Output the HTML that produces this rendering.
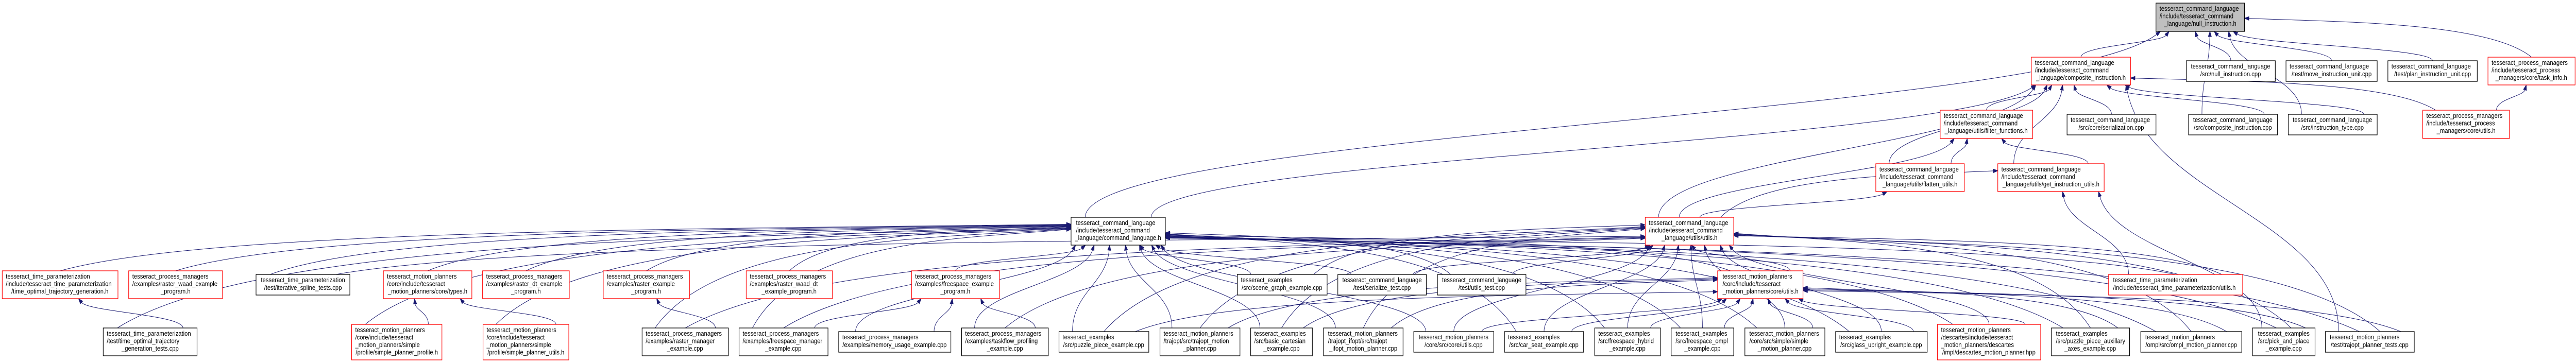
<!DOCTYPE html>
<html><head><meta charset="utf-8">
<style>
html,body{margin:0;padding:0;background:#fff;width:100%;height:100%;overflow:hidden;}
svg{display:block;position:absolute;left:0;top:0;width:100vw;height:100vh;}
text{font-family:"Liberation Sans",Arial,sans-serif;font-size:13px;fill:#000;}
</style></head>
<body>
<svg id="g" xmlns="http://www.w3.org/2000/svg" viewBox="0 0 5765 705" preserveAspectRatio="none" overflow="hidden">
<g id="edges" fill="none" stroke="#191970" stroke-width="1"></g>
<g id="heads" fill="#191970" stroke="#191970"></g>
<g id="nodes">
<rect x="4825" y="6" width="198" height="55" fill="#bfbfbf" stroke="#000" stroke-width="1.3"/>
<text x="4833" y="21">tesseract_command_language</text><text x="4833" y="35.5">/include/tesseract_command</text><text x="4924" y="50" text-anchor="middle">_language/null_instruction.h</text>
<rect x="4546" y="111" width="222" height="54" fill="#fff" stroke="#ff0000" stroke-width="1.3"/>
<text x="4554" y="126">tesseract_command_language</text><text x="4554" y="140.5">/include/tesseract_command</text><text x="4657" y="155" text-anchor="middle">_language/composite_instruction.h</text>
<rect x="4893" y="118" width="199" height="40" fill="#fff" stroke="#000" stroke-width="1.3"/>
<text x="4992" y="133" text-anchor="middle">tesseract_command_language</text><text x="4992" y="148" text-anchor="middle">/src/null_instruction.cpp</text>
<rect x="5116" y="118" width="204" height="40" fill="#fff" stroke="#000" stroke-width="1.3"/>
<text x="5124" y="133">tesseract_command_language</text><text x="5218" y="148" text-anchor="middle">/test/move_instruction_unit.cpp</text>
<rect x="5344" y="118" width="200" height="40" fill="#fff" stroke="#000" stroke-width="1.3"/>
<text x="5352" y="133">tesseract_command_language</text><text x="5444" y="148" text-anchor="middle">/test/plan_instruction_unit.cpp</text>
<rect x="5568" y="111" width="195" height="54" fill="#fff" stroke="#ff0000" stroke-width="1.3"/>
<text x="5576" y="126">tesseract_process_managers</text><text x="5576" y="140.5">/include/tesseract_process</text><text x="5665" y="155" text-anchor="middle">_managers/core/task_info.h</text>
<rect x="4342" y="214" width="207" height="55" fill="#fff" stroke="#ff0000" stroke-width="1.3"/>
<text x="4350" y="229">tesseract_command_language</text><text x="4350" y="243.5">/include/tesseract_command</text><text x="4445" y="258" text-anchor="middle">_language/utils/filter_functions.h</text>
<rect x="4626" y="222" width="199" height="40" fill="#fff" stroke="#000" stroke-width="1.3"/>
<text x="4634" y="237">tesseract_command_language</text><text x="4725" y="252" text-anchor="middle">/src/core/serialization.cpp</text>
<rect x="4898" y="222" width="199" height="40" fill="#fff" stroke="#000" stroke-width="1.3"/>
<text x="4997" y="237" text-anchor="middle">tesseract_command_language</text><text x="4997" y="252" text-anchor="middle">/src/composite_instruction.cpp</text>
<rect x="5121" y="222" width="199" height="40" fill="#fff" stroke="#000" stroke-width="1.3"/>
<text x="5220" y="237" text-anchor="middle">tesseract_command_language</text><text x="5220" y="252" text-anchor="middle">/src/instruction_type.cpp</text>
<rect x="5422" y="214" width="194" height="55" fill="#fff" stroke="#ff0000" stroke-width="1.3"/>
<text x="5430" y="229">tesseract_process_managers</text><text x="5430" y="243.5">/include/tesseract_process</text><text x="5519" y="258" text-anchor="middle">_managers/core/utils.h</text>
<rect x="4198" y="318" width="198" height="54" fill="#fff" stroke="#ff0000" stroke-width="1.3"/>
<text x="4206" y="333">tesseract_command_language</text><text x="4206" y="347.5">/include/tesseract_command</text><text x="4297" y="362" text-anchor="middle">_language/utils/flatten_utils.h</text>
<rect x="4471" y="318" width="238" height="54" fill="#fff" stroke="#ff0000" stroke-width="1.3"/>
<text x="4479" y="333">tesseract_command_language</text><text x="4479" y="347.5">/include/tesseract_command</text><text x="4590" y="362" text-anchor="middle">_language/utils/get_instruction_utils.h</text>
<rect x="2397" y="422" width="211" height="54" fill="#fff" stroke="#000" stroke-width="1.3"/>
<text x="2408" y="437">tesseract_command_language</text><text x="2408" y="451.5">/include/tesseract_command</text><text x="2502" y="466" text-anchor="middle">_language/command_language.h</text>
<rect x="3682" y="422" width="198" height="54" fill="#fff" stroke="#ff0000" stroke-width="1.3"/>
<text x="3690" y="437">tesseract_command_language</text><text x="3690" y="451.5">/include/tesseract_command</text><text x="3781" y="466" text-anchor="middle">_language/utils/utils.h</text>
<rect x="5" y="526" width="259" height="54" fill="#fff" stroke="#ff0000" stroke-width="1.3"/>
<text x="13" y="541">tesseract_time_parameterization</text><text x="13" y="555.5">/include/tesseract_time_parameterization</text><text x="134" y="570" text-anchor="middle">/time_optimal_trajectory_generation.h</text>
<rect x="288" y="526" width="210" height="54" fill="#fff" stroke="#ff0000" stroke-width="1.3"/>
<text x="296" y="541">tesseract_process_managers</text><text x="296" y="555.5">/examples/raster_waad_example</text><text x="393" y="570" text-anchor="middle">_program.h</text>
<rect x="573" y="533" width="210" height="40" fill="#fff" stroke="#000" stroke-width="1.3"/>
<text x="678" y="548" text-anchor="middle">tesseract_time_parameterization</text><text x="678" y="563" text-anchor="middle">/test/iterative_spline_tests.cpp</text>
<rect x="858" y="526" width="198" height="54" fill="#fff" stroke="#ff0000" stroke-width="1.3"/>
<text x="866" y="541">tesseract_motion_planners</text><text x="866" y="555.5">/core/include/tesseract</text><text x="957" y="570" text-anchor="middle">_motion_planners/core/types.h</text>
<rect x="1080" y="526" width="194" height="54" fill="#fff" stroke="#ff0000" stroke-width="1.3"/>
<text x="1088" y="541">tesseract_process_managers</text><text x="1088" y="555.5">/examples/raster_dt_example</text><text x="1177" y="570" text-anchor="middle">_program.h</text>
<rect x="1350" y="526" width="193" height="54" fill="#fff" stroke="#ff0000" stroke-width="1.3"/>
<text x="1358" y="541">tesseract_process_managers</text><text x="1358" y="555.5">/examples/raster_example</text><text x="1446" y="570" text-anchor="middle">_program.h</text>
<rect x="1670" y="526" width="193" height="54" fill="#fff" stroke="#ff0000" stroke-width="1.3"/>
<text x="1678" y="541">tesseract_process_managers</text><text x="1678" y="555.5">/examples/raster_waad_dt</text><text x="1766" y="570" text-anchor="middle">_example_program.h</text>
<rect x="2040" y="526" width="197" height="54" fill="#fff" stroke="#ff0000" stroke-width="1.3"/>
<text x="2048" y="541">tesseract_process_managers</text><text x="2048" y="555.5">/examples/freespace_example</text><text x="2138" y="570" text-anchor="middle">_program.h</text>
<rect x="2769" y="533" width="201" height="40" fill="#fff" stroke="#000" stroke-width="1.3"/>
<text x="2777" y="548">tesseract_examples</text><text x="2869" y="563" text-anchor="middle">/src/scene_graph_example.cpp</text>
<rect x="2994" y="533" width="198" height="40" fill="#fff" stroke="#000" stroke-width="1.3"/>
<text x="3093" y="548" text-anchor="middle">tesseract_command_language</text><text x="3093" y="563" text-anchor="middle">/test/serialize_test.cpp</text>
<rect x="3217" y="533" width="198" height="40" fill="#fff" stroke="#000" stroke-width="1.3"/>
<text x="3316" y="548" text-anchor="middle">tesseract_command_language</text><text x="3316" y="563" text-anchor="middle">/test/utils_test.cpp</text>
<rect x="3844" y="526" width="191" height="54" fill="#fff" stroke="#ff0000" stroke-width="1.3"/>
<text x="3855" y="541">tesseract_motion_planners</text><text x="3855" y="555.5">/core/include/tesseract</text><text x="3940" y="570" text-anchor="middle">_motion_planners/core/utils.h</text>
<rect x="4719" y="533" width="300" height="40" fill="#fff" stroke="#ff0000" stroke-width="1.3"/>
<text x="4729" y="548">tesseract_time_parameterization</text><text x="4729" y="563">/include/tesseract_time_parameterization/utils.h</text>
<rect x="231" y="637" width="210" height="54" fill="#fff" stroke="#000" stroke-width="1.3"/>
<text x="239" y="652">tesseract_time_parameterization</text><text x="239" y="666.5">/test/time_optimal_trajectory</text><text x="336" y="681" text-anchor="middle">_generation_tests.cpp</text>
<rect x="787" y="630" width="202" height="69" fill="#fff" stroke="#ff0000" stroke-width="1.3"/>
<text x="795" y="645">tesseract_motion_planners</text><text x="795" y="659.5">/core/include/tesseract</text><text x="795" y="674">_motion_planners/simple</text><text x="888" y="688.5" text-anchor="middle">/profile/simple_planner_profile.h</text>
<rect x="1081" y="630" width="192" height="69" fill="#fff" stroke="#ff0000" stroke-width="1.3"/>
<text x="1089" y="645">tesseract_motion_planners</text><text x="1089" y="659.5">/core/include/tesseract</text><text x="1089" y="674">_motion_planners/simple</text><text x="1177" y="688.5" text-anchor="middle">/profile/simple_planner_utils.h</text>
<rect x="1437" y="637" width="193" height="54" fill="#fff" stroke="#000" stroke-width="1.3"/>
<text x="1445" y="652">tesseract_process_managers</text><text x="1445" y="666.5">/examples/raster_manager</text><text x="1533" y="681" text-anchor="middle">_example.cpp</text>
<rect x="1654" y="637" width="199" height="54" fill="#fff" stroke="#000" stroke-width="1.3"/>
<text x="1662" y="652">tesseract_process_managers</text><text x="1662" y="666.5">/examples/freespace_manager</text><text x="1753" y="681" text-anchor="middle">_example.cpp</text>
<rect x="1877" y="644" width="251" height="40" fill="#fff" stroke="#000" stroke-width="1.3"/>
<text x="1885" y="659">tesseract_process_managers</text><text x="2002" y="674" text-anchor="middle">/examples/memory_usage_example.cpp</text>
<rect x="2152" y="637" width="194" height="54" fill="#fff" stroke="#000" stroke-width="1.3"/>
<text x="2160" y="652">tesseract_process_managers</text><text x="2160" y="666.5">/examples/taskflow_profiling</text><text x="2249" y="681" text-anchor="middle">_example.cpp</text>
<rect x="2370" y="644" width="201" height="40" fill="#fff" stroke="#000" stroke-width="1.3"/>
<text x="2378" y="659">tesseract_examples</text><text x="2470" y="674" text-anchor="middle">/src/puzzle_piece_example.cpp</text>
<rect x="2596" y="637" width="179" height="54" fill="#fff" stroke="#000" stroke-width="1.3"/>
<text x="2604" y="652">tesseract_motion_planners</text><text x="2604" y="666.5">/trajopt/src/trajopt_motion</text><text x="2685" y="681" text-anchor="middle">_planner.cpp</text>
<rect x="2799" y="637" width="138" height="54" fill="#fff" stroke="#000" stroke-width="1.3"/>
<text x="2807" y="652">tesseract_examples</text><text x="2807" y="666.5">/src/basic_cartesian</text><text x="2868" y="681" text-anchor="middle">_example.cpp</text>
<rect x="2962" y="637" width="178" height="54" fill="#fff" stroke="#000" stroke-width="1.3"/>
<text x="2972" y="652">tesseract_motion_planners</text><text x="2972" y="666.5">/trajopt_ifopt/src/trajopt</text><text x="3051" y="681" text-anchor="middle">_ifopt_motion_planner.cpp</text>
<rect x="3164" y="644" width="179" height="40" fill="#fff" stroke="#000" stroke-width="1.3"/>
<text x="3253" y="659" text-anchor="middle">tesseract_motion_planners</text><text x="3253" y="674" text-anchor="middle">/core/src/core/utils.cpp</text>
<rect x="3367" y="644" width="177" height="40" fill="#fff" stroke="#000" stroke-width="1.3"/>
<text x="3375" y="659">tesseract_examples</text><text x="3455" y="674" text-anchor="middle">/src/car_seat_example.cpp</text>
<rect x="3569" y="637" width="147" height="54" fill="#fff" stroke="#000" stroke-width="1.3"/>
<text x="3577" y="652">tesseract_examples</text><text x="3577" y="666.5">/src/freespace_hybrid</text><text x="3642" y="681" text-anchor="middle">_example.cpp</text>
<rect x="3740" y="637" width="140" height="54" fill="#fff" stroke="#000" stroke-width="1.3"/>
<text x="3750" y="652">tesseract_examples</text><text x="3750" y="666.5">/src/freespace_ompl</text><text x="3810" y="681" text-anchor="middle">_example.cpp</text>
<rect x="3905" y="637" width="179" height="54" fill="#fff" stroke="#000" stroke-width="1.3"/>
<text x="3915" y="652">tesseract_motion_planners</text><text x="3915" y="666.5">/core/src/simple/simple</text><text x="3994" y="681" text-anchor="middle">_motion_planner.cpp</text>
<rect x="4108" y="644" width="205" height="40" fill="#fff" stroke="#000" stroke-width="1.3"/>
<text x="4116" y="659">tesseract_examples</text><text x="4210" y="674" text-anchor="middle">/src/glass_upright_example.cpp</text>
<rect x="4336" y="630" width="231" height="69" fill="#fff" stroke="#ff0000" stroke-width="1.3"/>
<text x="4344" y="645">tesseract_motion_planners</text><text x="4344" y="659.5">/descartes/include/tesseract</text><text x="4344" y="674">_motion_planners/descartes</text><text x="4451" y="688.5" text-anchor="middle">/impl/descartes_motion_planner.hpp</text>
<rect x="4591" y="637" width="175" height="54" fill="#fff" stroke="#000" stroke-width="1.3"/>
<text x="4601" y="652">tesseract_examples</text><text x="4601" y="666.5">/src/puzzle_piece_auxillary</text><text x="4678" y="681" text-anchor="middle">_axes_example.cpp</text>
<rect x="4791" y="644" width="226" height="40" fill="#fff" stroke="#000" stroke-width="1.3"/>
<text x="4801" y="659">tesseract_motion_planners</text><text x="4904" y="674" text-anchor="middle">/ompl/src/ompl_motion_planner.cpp</text>
<rect x="5041" y="637" width="140" height="54" fill="#fff" stroke="#000" stroke-width="1.3"/>
<text x="5111" y="652" text-anchor="middle">tesseract_examples</text><text x="5111" y="666.5" text-anchor="middle">/src/pick_and_place</text><text x="5111" y="681" text-anchor="middle">_example.cpp</text>
<rect x="5204" y="644" width="199" height="40" fill="#fff" stroke="#000" stroke-width="1.3"/>
<text x="5214" y="659">tesseract_motion_planners</text><text x="5303" y="674" text-anchor="middle">/test/trajopt_planner_tests.cpp</text>
</g>
</svg>
<script>
(function(){
var N={
null_h:[4825,6,198,55],comp_h:[4546,111,222,54],nullcpp:[4893,118,199,40],moveunit:[5116,118,204,40],planunit:[5344,118,200,40],taskinfo:[5568,111,195,54],
filter:[4342,214,207,55],serial:[4626,222,199,40],compcpp:[4898,222,199,40],insttype:[5121,222,199,40],pmutils:[5422,214,194,55],
flatten:[4198,318,198,54],getinst:[4471,318,238,54],cl_h:[2397,422,211,54],utils_h:[3682,422,198,54],
tog_h:[5,526,259,54],rwep:[288,526,210,54],ispline:[573,533,210,40],types_h:[858,526,198,54],rdtep:[1080,526,194,54],rep:[1350,526,193,54],rwdtep:[1670,526,193,54],fep:[2040,526,197,54],scene:[2769,533,201,40],sertest:[2994,533,198,40],utest:[3217,533,198,40],mpcu:[3844,526,191,54],tpu:[4719,533,298,40],
togt:[231,637,210,54],spprof:[787,630,202,69],sputil:[1081,630,192,69],rmgr:[1437,637,193,54],fmgr:[1654,637,199,54],mem:[1877,644,251,40],task:[2152,637,194,54],puzzle:[2370,644,201,40],tmp:[2596,637,179,54],basic:[2799,637,138,54],ifopt:[2962,637,178,54],cucpp:[3164,644,179,40],car:[3367,644,177,40],fsh:[3569,637,147,54],fso:[3740,637,140,54],smp:[3905,637,179,54],glass:[4108,644,205,40],desc:[4336,630,231,69],paux:[4591,637,175,54],ompl:[4791,644,226,40],pick:[5041,637,140,54],tpt:[5204,644,199,40]};
var E=[
['comp_h','null_h'],['nullcpp','null_h'],['moveunit','null_h'],['planunit','null_h'],['taskinfo','null_h'],['cl_h','null_h'],['compcpp','null_h'],['insttype','null_h'],
['filter','comp_h'],['serial','comp_h'],['getinst','comp_h'],['flatten','comp_h'],['compcpp','comp_h'],['insttype','comp_h'],['cl_h','comp_h'],['utils_h','comp_h'],['tpt','comp_h'],['pmutils','comp_h'],
['flatten','filter'],['getinst','filter'],['utils_h','filter'],['utils_h','flatten'],['utils_h','getinst'],['tpu','getinst'],['pick','getinst'],['pmutils','taskinfo'],
['tog_h','cl_h'],['rwep','cl_h'],['ispline','cl_h'],['types_h','cl_h'],['rdtep','cl_h'],['rep','cl_h'],['rwdtep','cl_h'],['fep','cl_h'],['togt','cl_h'],['spprof','cl_h'],['sputil','cl_h'],['rmgr','cl_h'],['fmgr','cl_h'],['mem','cl_h'],['task','cl_h'],['puzzle','cl_h'],['tmp','cl_h'],['basic','cl_h'],['ifopt','cl_h'],['scene','cl_h'],['sertest','cl_h'],['utest','cl_h'],['cucpp','cl_h'],['car','cl_h'],['fsh','cl_h'],['fso','cl_h'],['smp','cl_h'],['mpcu','cl_h'],['glass','cl_h'],['desc','cl_h'],['paux','cl_h'],['ompl','cl_h'],['pick','cl_h'],['tpt','cl_h'],['tpu','cl_h'],
['mpcu','utils_h'],['scene','utils_h'],['sertest','utils_h'],['utest','utils_h'],['puzzle','utils_h'],['tmp','utils_h'],['basic','utils_h'],['ifopt','utils_h'],['cucpp','utils_h'],['car','utils_h'],['fsh','utils_h'],['fso','utils_h'],['smp','utils_h'],['glass','utils_h'],['desc','utils_h'],['paux','utils_h'],['ompl','utils_h'],['pick','utils_h'],['tpt','utils_h'],['tpu','utils_h'],['ispline','utils_h'],['rmgr','utils_h'],['fmgr','utils_h'],['task','utils_h'],
['tmp','mpcu'],['basic','mpcu'],['ifopt','mpcu'],['cucpp','mpcu'],['car','mpcu'],['fsh','mpcu'],['fso','mpcu'],['smp','mpcu'],['glass','mpcu'],['desc','mpcu'],['paux','mpcu'],['ompl','mpcu'],['pick','mpcu'],['tpt','mpcu'],['puzzle','mpcu'],
['spprof','types_h'],['togt','tog_h'],['rmgr','rep'],['fmgr','fep'],['mem','fep'],['task','fep'],['sputil','types_h']];
var outc={},outi={},inc={},ini={};
E.forEach(function(e){outc[e[0]]=(outc[e[0]]||0)+1;inc[e[1]]=(inc[e[1]]||0)+1;});
var ge=document.getElementById('edges'),gh=document.getElementById('heads'),ns='http://www.w3.org/2000/svg';
E.forEach(function(e){
 var S=N[e[0]],T=N[e[1]];
 var k=outi[e[0]]=(outi[e[0]]||0)+1, n=outc[e[0]];
 var j=ini[e[1]]=(ini[e[1]]||0)+1, m=inc[e[1]];
 var sx=S[0]+S[2]/2+(n>1?((k-1)/(n-1)-0.5)*S[2]*0.7:0), sy=S[1];
 var tcx=T[0]+T[2]/2, tx,ty,c1x,c1y,c2x,c2y,dx,dy;
 var dist=sx-tcx, side=Math.abs(dist)>700 && (S[1]-T[1])<260;
 var fr=(m>1?((j-1)/(m-1)-0.5):0);
 if(side){
  ty=T[1]+T[3]/2+fr*T[3]*0.5;
  if(dist<0){tx=T[0];}else{tx=T[0]+T[2];}
  c1x=sx+(tx-sx)*0.15; c1y=sy-(sy-ty)*0.9;
  c2x=tx-(tx-sx)*0.35; c2y=ty+(sy-ty)*0.1;
  dx=tx-c2x; dy=ty-c2y;
 } else {
  tx=tcx+Math.max(-T[2]/2+10,Math.min(T[2]/2-10,dist*0.15+fr*T[2]*0.3));
  ty=T[1]+T[3];
  var h=sy-ty;
  c1x=sx; c1y=sy-h*0.45; c2x=tx+(sx-tx)*0.1; c2y=ty+h*0.45;
  dx=tx-c2x; dy=ty-c2y;
 }
 var L=Math.sqrt(dx*dx+dy*dy)||1; dx/=L; dy/=L;
 var bx=tx-dx*10, by=ty-dy*10;
 var p=document.createElementNS(ns,'path');
 p.setAttribute('d','M'+sx+','+sy+' C'+c1x+','+c1y+' '+c2x+','+c2y+' '+bx+','+by);
 ge.appendChild(p);
 var a=document.createElementNS(ns,'polygon');
 var px=-dy*3.5, py=dx*3.5;
 a.setAttribute('points',tx+','+ty+' '+(bx+px)+','+(by+py)+' '+(bx-px)+','+(by-py));
 gh.appendChild(a);
});
})();
</script>
</body></html>
